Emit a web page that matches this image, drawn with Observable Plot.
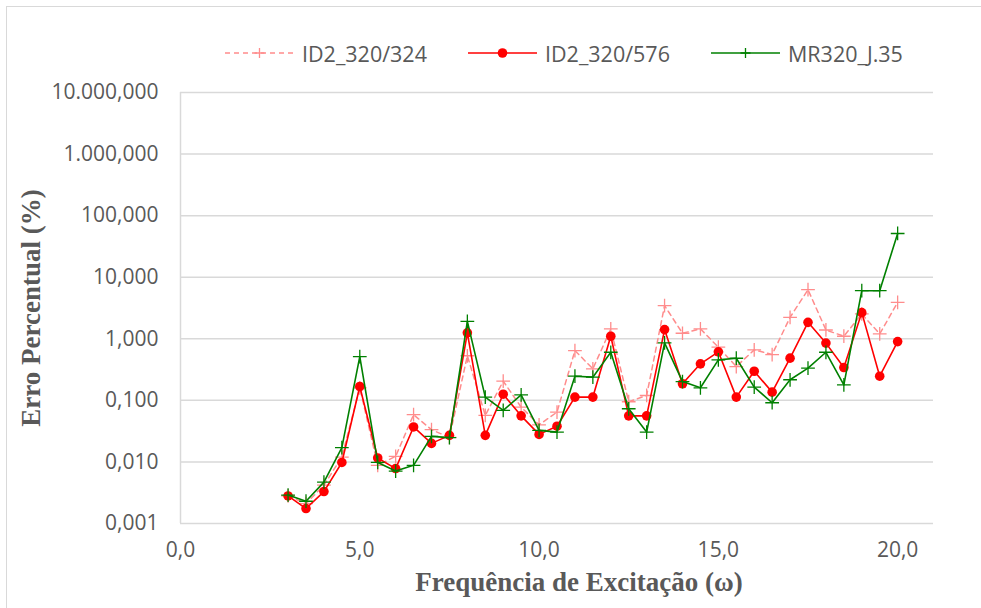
<!DOCTYPE html>
<html>
<head>
<meta charset="utf-8">
<script src="https://cdn.jsdelivr.net/npm/d3@7"></script>
<script src="https://cdn.jsdelivr.net/npm/@observablehq/plot@0.6"></script>
<style>
  body { margin: 0; background: #fff; }
  #wrap { position: relative; width: 981px; height: 608px; overflow: hidden; font-family: "Open Sans", sans-serif; }
  #frame { position: absolute; left: 6px; top: 6px; width: 1000px; height: 700px; border: 1px solid #d9d9d9; box-sizing: border-box; }
  #legend { position: absolute; left: 0; top: 0; width: 981px; height: 75px; }
  #chart { position: absolute; left: 0; top: 75px; }
  .item { position: absolute; top: 38px; height: 30px; display: flex; align-items: center; font-size: 21.5px; color: #595959; }
  .item svg { margin-right: 8px; }
</style>
</head>
<body>
<div id="wrap">
  <div id="frame"></div>
  <div id="legend"></div>
  <div id="chart"></div>
</div>
<script>
// Frequência de excitação (ω)
const freq = [3, 3.5, 4, 4.5, 5, 5.5, 6, 6.5, 7, 7.5, 8, 8.5, 9, 9.5, 10, 10.5, 11, 11.5, 12, 12.5, 13, 13.5, 14, 14.5, 15, 15.5, 16, 16.5, 17, 17.5, 18, 18.5, 19, 19.5, 20];

// ID2_320/324 (pink dashed)
const id2_324 = [0.0028, 0.0021, 0.0042, 0.012, 0.16, 0.0088, 0.0123, 0.0585, 0.0334, 0.025, 0.53, 0.057, 0.205, 0.0776, 0.04, 0.0644, 0.644, 0.325, 1.445, 0.095, 0.12, 3.45, 1.23, 1.45, 0.73, 0.354, 0.66, 0.555, 2.23, 6.27, 1.39, 1.10, 2.53, 1.2, 3.9];

// ID2_320/576 (red)
const id2_576 = [0.0028, 0.00175, 0.0033, 0.0098, 0.168, 0.0116, 0.0078, 0.037, 0.020, 0.027, 1.25, 0.027, 0.126, 0.056, 0.028, 0.038, 0.113, 0.113, 1.10, 0.056, 0.056, 1.41, 0.186, 0.392, 0.614, 0.113, 0.297, 0.136, 0.485, 1.85, 0.851, 0.341, 2.66, 0.247, 0.90];

// MR320_J.35 (green)
const mr320 = [0.0029, 0.0023, 0.0047, 0.0171, 0.514, 0.0098, 0.0071, 0.0088, 0.026, 0.0248, 1.92, 0.113, 0.0686, 0.123, 0.0325, 0.0305, 0.247, 0.238, 0.604, 0.073, 0.0305, 0.86, 0.202, 0.16, 0.455, 0.483, 0.164, 0.0915, 0.216, 0.333, 0.604, 0.178, 6.04, 6.04, 51.3];

const seriesNames = ["ID2_320/324", "ID2_320/576", "MR320_J.35"];
const yTicks = [0.001, 0.01, 0.1, 1, 10, 100, 1000, 10000];
const xTicks = [0, 5, 10, 15, 20];
const xTitle = "Frequência de Excitação (ω)";
const yTitle = "Erro Percentual (%)";

const loc = d3.formatLocale({decimal: ",", thousands: ".", grouping: [3], currency: ["R$", ""]});
const fmtX = loc.format(".1f");
const fmtY = loc.format(",.3f");

const rows = (vals) => freq.map((f, i) => ({x: f, y: vals[i]}));
const dPink = rows(id2_324), dRed = rows(id2_576), dGreen = rows(mr320);

const pink = "#ff8c8c", red = "#ff0000", green = "#008000";

const plot = Plot.plot({
  width: 981,
  height: 533,
  marginLeft: 180,
  marginRight: 48,
  marginTop: 17,
  marginBottom: 85,
  style: {fontFamily: "'Open Sans', sans-serif", fontSize: "21px", color: "#595959", background: "transparent"},
  x: {domain: [0, 21], label: null},
  y: {type: "log", domain: [0.001, 10000], label: null},
  marks: [
    Plot.gridY(yTicks, {stroke: "#d9d9d9", strokeOpacity: 1, strokeWidth: 1.5}),
    Plot.ruleX([0], {stroke: "#d9d9d9", strokeWidth: 1.5}),
    Plot.axisX(xTicks, {tickSize: 0, tickPadding: 19, tickFormat: fmtX, fill: "#595959", fontSize: 21}),
    Plot.axisY(yTicks, {tickSize: 0, tickPadding: 22, tickFormat: fmtY, fill: "#595959", fontSize: 21}),
    Plot.line(dPink, {x: "x", y: "y", stroke: pink, strokeWidth: 1.5, strokeDasharray: "5,4"}),
    Plot.dot(dPink, {x: "x", y: "y", symbol: "plus", r: 4.5, stroke: pink, strokeWidth: 1.3}),
    Plot.line(dRed, {x: "x", y: "y", stroke: red, strokeWidth: 1.6}),
    Plot.dot(dRed, {x: "x", y: "y", r: 4.8, fill: red, stroke: "none"}),
    Plot.line(dGreen, {x: "x", y: "y", stroke: green, strokeWidth: 1.6}),
    Plot.dot(dGreen, {x: "x", y: "y", symbol: "plus", r: 4.5, stroke: green, strokeWidth: 1.3}),
    Plot.text([xTitle], {frameAnchor: "bottom", dx: 22, dy: 67, fontFamily: "'Liberation Serif', serif", fontWeight: "bold", fontSize: 27, fill: "#595959"}),
    Plot.text([yTitle], {frameAnchor: "left", textAnchor: "middle", dx: -149, rotate: -90, fontFamily: "'Liberation Serif', serif", fontWeight: "bold", fontSize: 27, fill: "#595959"})
  ]
});
document.getElementById("chart").appendChild(plot);

// Legend
const legend = document.getElementById("legend");
const legendItems = [
  {name: seriesNames[0], color: pink, dash: "5,4", marker: "plus", left: 225},
  {name: seriesNames[1], color: red, dash: null, marker: "dot", left: 468},
  {name: seriesNames[2], color: green, dash: null, marker: "plus", left: 711}
];
legendItems.forEach(it => {
  const div = document.createElement("div");
  div.className = "item";
  div.style.left = it.left + "px";
  const ns = "http://www.w3.org/2000/svg";
  const svg = document.createElementNS(ns, "svg");
  svg.setAttribute("width", 69);
  svg.setAttribute("height", 20);
  const line = document.createElementNS(ns, "line");
  line.setAttribute("x1", 0); line.setAttribute("x2", 69);
  line.setAttribute("y1", 10); line.setAttribute("y2", 10);
  line.setAttribute("stroke", it.color);
  line.setAttribute("stroke-width", 1.6);
  if (it.dash) line.setAttribute("stroke-dasharray", it.dash);
  svg.appendChild(line);
  if (it.marker === "dot") {
    const c = document.createElementNS(ns, "circle");
    c.setAttribute("cx", 34.5); c.setAttribute("cy", 10); c.setAttribute("r", 4.8);
    c.setAttribute("fill", it.color);
    svg.appendChild(c);
  } else {
    const p = document.createElementNS(ns, "path");
    p.setAttribute("d", "M34.5,5V15M29.5,10H39.5");
    p.setAttribute("stroke", it.color);
    p.setAttribute("stroke-width", 1.3);
    svg.appendChild(p);
  }
  div.appendChild(svg);
  const span = document.createElement("span");
  span.textContent = it.name;
  div.appendChild(span);
  legend.appendChild(div);
});
</script>
</body>
</html>
